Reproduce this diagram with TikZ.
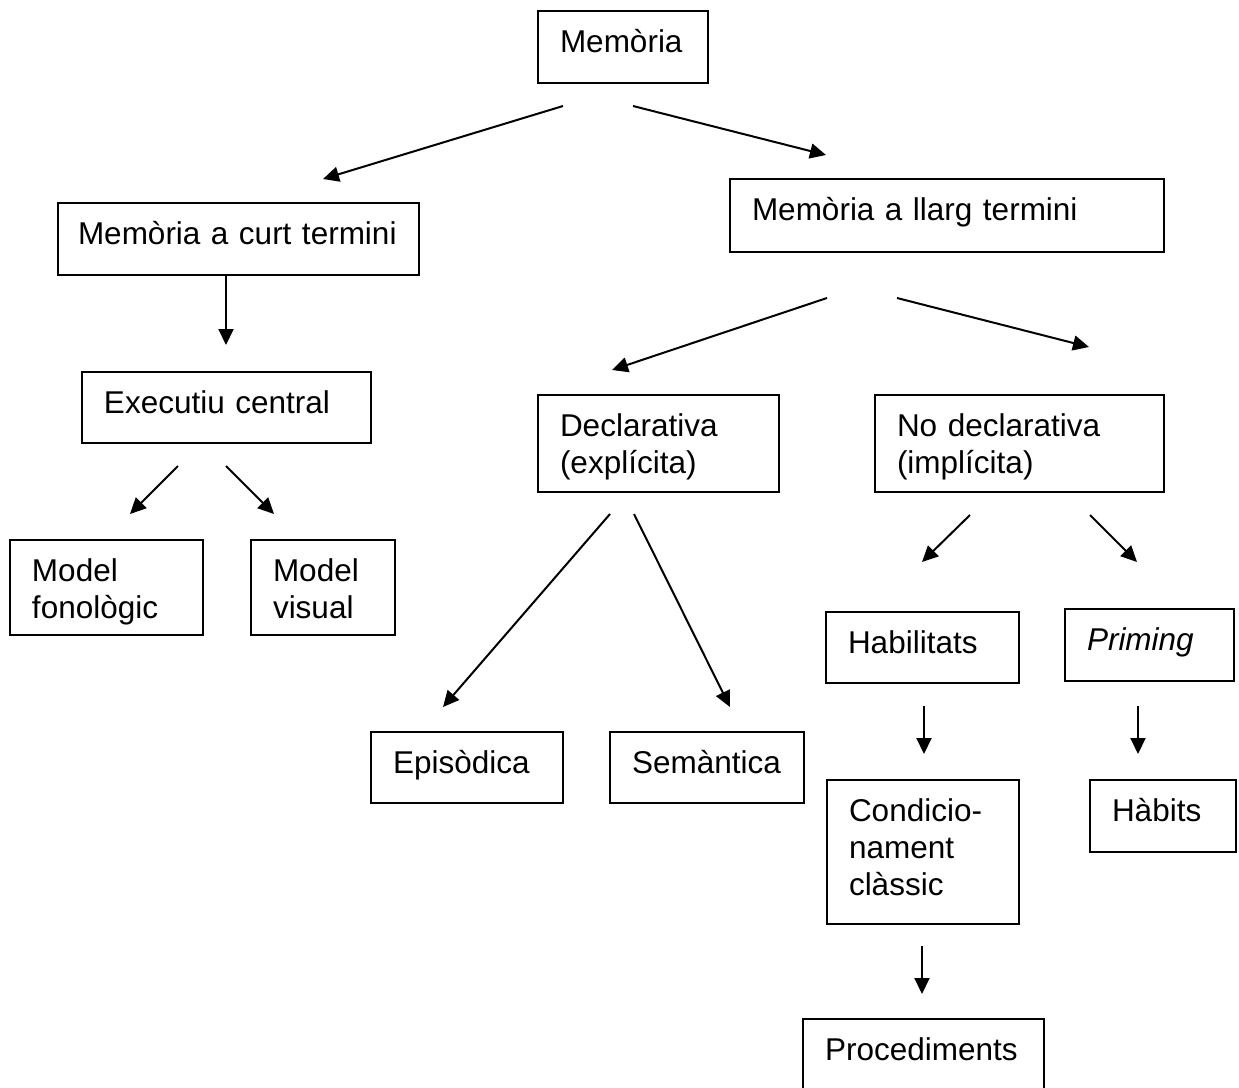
\documentclass[tikz,border=0pt]{standalone}
\usepackage{fontspec}
\setmainfont{Liberation Sans}
\usetikzlibrary{arrows.meta}

\begin{document}
\begin{tikzpicture}[x=0.5pt,y=-0.5pt]
\tikzset{box/.style = {shape=rectangle,draw,line width=1pt,anchor=north west,inner xsep=11pt,inner ysep=0pt,align=left,text height=20.5pt,font=\fontsize{15.75}{18.5}\selectfont,execute at begin node={\hyphenpenalty=10000}}}
\tikzset{edge/.style = {-{Triangle[length=8pt,width=7.5pt]},line width=1pt}}
\useasboundingbox (0,0) rectangle (1239,1088);
% boxes
\node[box,text width=63pt,text depth=15.5pt] (mem) at (537,10) {Memòria};
\node[box,inner xsep=10pt,text width=160.5pt,text depth=15.5pt] (curt) at (57,202) {Memòria a curt termini};
\node[box,text width=195pt,text depth=16pt] (llarg) at (729,178) {Memòria a llarg termini};
\node[box,text width=122.5pt,text depth=15pt] (exec) at (81,371) {Executiu central};
\node[box,text width=74.5pt,text depth=27pt] (fono) at (9,539) {Model\\fonològic};
\node[box,text width=50pt,text depth=27pt] (visual) at (250,539) {Model\\visual};
\node[box,text width=98.5pt,text depth=28pt] (decl) at (537,394) {Declarativa\\(explícita)};
\node[box,text width=122.5pt,text depth=28pt] (nodecl) at (874,394) {No declarativa\\(implícita)};
\node[box,text width=74pt,text depth=15pt] (epis) at (370,731) {Episòdica};
\node[box,text width=75pt,text depth=15pt] (seman) at (609,731) {Semàntica};
\node[box,text width=74.5pt,text depth=15pt] (habil) at (825,611) {Habilitats};
\node[box,text width=62.5pt,text depth=15.5pt] (priming) at (1064,608) {\itshape Priming};
\node[box,text width=74pt,text depth=51.5pt] (cond) at (826,779) {Condicio-\\nament\\clàssic};
\node[box,text width=51pt,text depth=15.5pt] (habits) at (1089,779) {Hàbits};
\node[box,text width=98.5pt,text depth=15.5pt] (proc) at (802,1018) {Procediments};
% arrow ends
\coordinate (mem-a) at (563,106);
\coordinate (mem-b) at (633,106);
\coordinate (curt-in) at (323,179);
\coordinate (llarg-in) at (826,155);
\coordinate (curt-out) at (226,274);
\coordinate (exec-in) at (226,345);
\coordinate (llarg-a) at (827,298);
\coordinate (llarg-b) at (897,298);
\coordinate (decl-in) at (612,370);
\coordinate (nodecl-in) at (1089,347);
\coordinate (exec-a) at (178,466);
\coordinate (exec-b) at (226,466);
\coordinate (fono-in) at (130,514);
\coordinate (visual-in) at (274,514);
\coordinate (decl-a) at (610,514);
\coordinate (decl-b) at (634,514);
\coordinate (epis-in) at (443,707);
\coordinate (seman-in) at (730,707);
\coordinate (nodecl-a) at (970,515);
\coordinate (nodecl-b) at (1090,515);
\coordinate (habil-in) at (922,562);
\coordinate (priming-in) at (1137,562);
\coordinate (habil-out) at (924,706);
\coordinate (cond-in) at (924,754);
\coordinate (priming-out) at (1138,706);
\coordinate (habits-in) at (1138,754);
\coordinate (cond-out) at (922,946);
\coordinate (proc-in) at (922,994);
% arrows
\draw[edge] (mem-a) to (curt-in);
\draw[edge] (mem-b) to (llarg-in);
\draw[edge] (curt-out) to (exec-in);
\draw[edge] (llarg-a) to (decl-in);
\draw[edge] (llarg-b) to (nodecl-in);
\draw[edge] (exec-a) to (fono-in);
\draw[edge] (exec-b) to (visual-in);
\draw[edge] (decl-a) to (epis-in);
\draw[edge] (decl-b) to (seman-in);
\draw[edge] (nodecl-a) to (habil-in);
\draw[edge] (nodecl-b) to (priming-in);
\draw[edge] (habil-out) to (cond-in);
\draw[edge] (priming-out) to (habits-in);
\draw[edge] (cond-out) to (proc-in);
\end{tikzpicture}
\end{document}
